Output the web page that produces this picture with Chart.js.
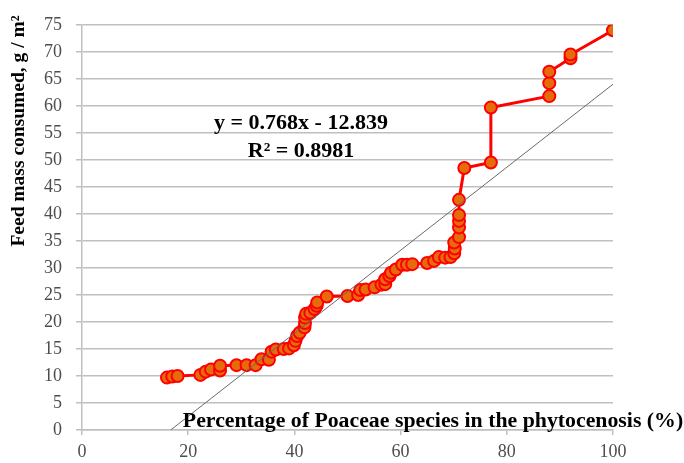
<!DOCTYPE html>
<html>
<head>
<meta charset="utf-8">
<script src="https://cdn.jsdelivr.net/npm/chart.js@4/dist/chart.umd.min.js"></script>
<style>
  html, body { margin: 0; padding: 0; background: #fff; }
  #wrap { width: 684px; height: 463px; }
</style>
</head>
<body>
<div id="wrap"><canvas id="myChart" width="684" height="463"></canvas></div>
<script>
// Poaceae share (%) and feed mass consumed (g / m2)
const poaceae = [16, 17, 18, 22.3, 23.3, 24.3, 26, 26, 29.1, 31, 32.7, 33.8, 35.2, 35.7, 36.5, 38, 39, 39.9, 40.2, 40.5,
  41, 41.9, 42, 42, 42.2, 43, 43.8, 44.2, 44.3, 46.1, 50, 52, 52.4, 53.4, 55.1, 56.4, 57.1, 57.1, 57.9, 58.2,
  59.1, 60.3, 61.2, 62.2, 65, 66.3, 67.2, 68.4, 69.4, 70.1, 70.2, 70.1, 71, 71, 71, 71, 71, 72, 77, 77,
  88, 88, 88, 92, 92, 100];
const feedMass = [9.7, 9.9, 10, 10.2, 10.8, 11.2, 11, 11.9, 12, 12, 12, 13.1, 13, 14.5, 14.9, 15, 15.1, 15.7, 16.5, 17.4,
  18, 19, 19.8, 20.8, 21.5, 21.7, 22.4, 23, 23.6, 24.7, 24.8, 25, 25.9, 26, 26.4, 26.9, 27, 27.9, 28.5, 29.1,
  29.7, 30.6, 30.6, 30.7, 30.9, 31.3, 32, 31.9, 32, 32.7, 33.6, 34.7, 35.7, 37.5, 38.7, 39.8, 42.6, 48.5, 49.5, 59.7,
  61.8, 64.2, 66.3, 68.8, 69.5, 74];

// linear trend line end points
const trendX = [16.7, 100];
const trendY = [0, 64];

const xTicks = [0, 20, 40, 60, 80, 100];
const yMax = 75;

const serif = '"Liberation Serif", "Times New Roman", serif';

function toPoints(xs, ys) {
  return xs.map((x, i) => ({ x: x, y: ys[i] }));
}

// titles and the equation are drawn straight on the canvas
const labelsPlugin = {
  id: "labels",
  afterDraw(chart) {
    const ctx = chart.ctx;
    ctx.save();
    ctx.fillStyle = "#000";
    ctx.font = "bold 22px " + serif;
    ctx.textAlign = "center";
    ctx.textBaseline = "alphabetic";
    ctx.fillText("y = 0.768x - 12.839", 301, 129);
    ctx.fillText("R² = 0.8981", 301, 157);

    // x title is a bit wider in the original
    ctx.save();
    ctx.font = "bold 20px " + serif;
    ctx.translate(433, 427);
    ctx.scale(1.09, 1);
    ctx.fillText("Percentage of Poaceae species in the phytocenosis (%)", 0, 0);
    ctx.restore();

    ctx.font = "bold 19.5px " + serif;
    ctx.translate(24, 131);
    ctx.rotate(-Math.PI / 2);
    ctx.fillText("Feed mass consumed, g / m²", 0, 0);
    ctx.restore();
  },
};

const canvas = document.getElementById("myChart");
const myChart = new Chart(canvas.getContext("2d"), {
  type: "scatter",
  data: {
    datasets: [
      {
        label: "trend",
        data: toPoints(trendX, trendY),
        showLine: true,
        borderColor: "#6a6a6a",
        borderWidth: 1,
        pointRadius: 0,
      },
      {
        label: "feed",
        data: toPoints(poaceae, feedMass),
        showLine: true,
        borderColor: "#ff0000",
        borderWidth: 3,
        pointRadius: 6,
        pointBorderWidth: 2,
        pointBackgroundColor: "#e46c0a",
        pointBorderColor: "#ff0000",
      },
    ],
  },
  options: {
    responsive: false,
    animation: false,
    layout: { padding: { top: 14, right: 71, left: 0, bottom: 0 } },
    plugins: {
      legend: { display: false },
      tooltip: { enabled: false },
    },
    scales: {
      x: {
        type: "linear",
        min: 0,
        max: 100,
        afterFit: (scale) => { scale.height = 33; },
        afterBuildTicks: (scale) => { scale.ticks = xTicks.map((v) => ({ value: v })); },
        grid: { drawOnChartArea: false, drawTicks: true, tickLength: 5, color: "#bfbfbf", lineWidth: 1.5 },
        border: { color: "#bfbfbf", width: 1.5 },
        ticks: { padding: 6, color: "#4d4d4d", font: { family: serif, size: 18 } },
      },
      y: {
        type: "linear",
        min: 0,
        max: yMax,
        afterFit: (scale) => { scale.width = 82; },
        grid: { tickLength: 6, color: "#bfbfbf", lineWidth: 1.5 },
        border: { color: "#bfbfbf", width: 1.5 },
        ticks: { stepSize: 5, padding: 14, color: "#4d4d4d", font: { family: serif, size: 18 } },
      },
    },
  },
  plugins: [labelsPlugin],
});
</script>
</body>
</html>
